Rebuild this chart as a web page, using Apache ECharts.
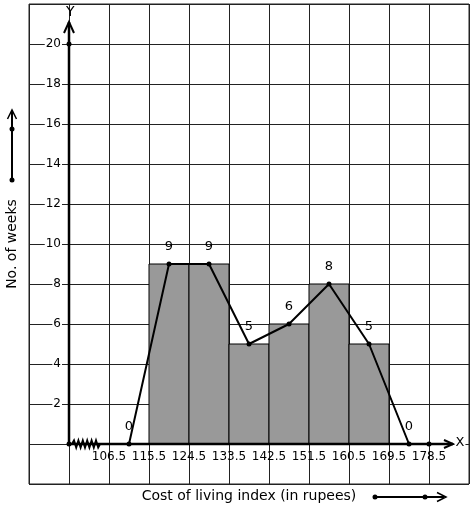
<!DOCTYPE html>
<html><head><meta charset="utf-8">
<script src="https://cdn.jsdelivr.net/npm/echarts@6/dist/echarts.min.js"></script>
<style>html,body{margin:0;padding:0;background:#fff}#c{width:474px;height:510px}</style>
</head><body><div id="c"></div>
<script>
// Histogram classes and frequencies
const classLower = [115.5, 124.5, 133.5, 142.5, 151.5, 160.5];
const classUpper = [124.5, 133.5, 142.5, 151.5, 160.5, 169.5];
const frequencies = [9, 9, 5, 6, 8, 5];
// Frequency polygon (class marks)
const polygonX = [111, 120, 129, 138, 147, 156, 165, 174];
const polygonY = [0, 9, 9, 5, 6, 8, 5, 0];
// Tick labels
const xTickLabels = ['106.5', '115.5', '124.5', '133.5', '142.5', '151.5', '160.5', '169.5', '178.5'];
const yTickLabels = ['2', '4', '6', '8', '10', '12', '14', '16', '18', '20'];
const xTitle = 'Cost of living index (in rupees)';
const yTitle = 'No. of weeks';

const FONT = 'DejaVu Sans';
const xMin = 88.5, xMax = 187.5, xStep = 9;
const originX = 97.5;

const chart = echarts.init(document.getElementById('c'), null, {renderer: 'canvas'});
const barData = classLower.map((l, i) => [l, classUpper[i], frequencies[i]]);
const polyData = polygonX.map((x, i) => [x, polygonY[i]]);

chart.setOption({
  animation: false,
  backgroundColor: '#fff',
  grid: {left: 29, top: 4, width: 440, height: 480, show: true, borderColor: '#222', borderWidth: 1, backgroundColor: 'transparent'},
  xAxis: {
    type: 'value', min: xMin, max: xMax, interval: xStep, position: 'bottom', offset: -40,
    axisLine: {show: false}, axisTick: {show: false},
    splitLine: {show: true, lineStyle: {color: '#222', width: 1}},
    axisLabel: {
      margin: 7, fontSize: 12, fontFamily: FONT, color: '#000',
      formatter: v => { const s = v.toFixed(1); return xTickLabels.includes(s) ? s : ''; }
    }
  },
  yAxis: {
    type: 'value', min: -2, max: 22, interval: 2, position: 'left', offset: -40,
    axisLine: {show: false}, axisTick: {show: false},
    splitLine: {show: true, lineStyle: {color: '#222', width: 1}},
    axisLabel: {
      margin: 7, fontSize: 12, fontFamily: FONT, color: '#000', backgroundColor: '#fff', padding: [0, 1, 0, 1],
      formatter: v => { const s = String(Math.round(v)); return yTickLabels.includes(s) ? s : ''; }
    }
  },
  series: [
    {
      type: 'custom', data: barData, z: 2,
      encode: {x: [0, 1], y: 2},
      renderItem: (params, api) => {
        const p0 = api.coord([api.value(0), api.value(2)]);
        const p1 = api.coord([api.value(1), 0]);
        return {type: 'rect', shape: {x: p0[0], y: p0[1], width: p1[0] - p0[0], height: p1[1] - p0[1]},
                style: {fill: '#999999', stroke: '#000', lineWidth: 1}};
      }
    },
    {
      type: 'line', data: polyData, z: 5,
      lineStyle: {color: '#000', width: 2},
      itemStyle: {color: '#000'},
      symbol: 'circle', symbolSize: 5, showSymbol: true,
      label: {show: true, position: 'top', distance: 8, fontSize: 13, fontFamily: FONT, color: '#000',
              formatter: p => String(p.value[1])}
    }
  ]
});

// Axis decorations computed from the coordinate system
const o = chart.convertToPixel({gridIndex: 0}, [originX, 0]);
const ox = o[0], oy = o[1];
const yTop = chart.convertToPixel({gridIndex: 0}, [originX, 20])[1];
const x178 = chart.convertToPixel({gridIndex: 0}, [178.5, 0])[0];
const yArrowTip = chart.convertToPixel({gridIndex: 0}, [originX, 21.1])[1];
const xArrowTip = chart.convertToPixel({gridIndex: 0}, [183.9, 0])[0];

const zig = [[ox + 3, oy]];
for (let i = 0; i < 12; i++) {
  zig.push([ox + 5 + i * 2.2, oy + (i % 2 === 0 ? -3.5 : 3.5)]);
}
zig.push([ox + 31, oy]);

const dot = (x, y) => ({type: 'circle', shape: {cx: x, cy: y, r: 2.5}, style: {fill: '#000'}, z: 20});
const line = (pts, w) => ({type: 'polyline', shape: {points: pts}, style: {stroke: '#000', lineWidth: w, fill: null}, z: 19});

chart.setOption({
  graphic: [
    line([[ox, oy], [ox, yArrowTip]], 2.5),
    line([[ox - 5, yArrowTip + 11], [ox, yArrowTip], [ox + 5, yArrowTip + 11]], 2),
    line([[ox, oy], [xArrowTip, oy]], 2.5),
    line([[xArrowTip - 9, oy - 4], [xArrowTip, oy], [xArrowTip - 9, oy + 4]], 2),
    line(zig, 2),
    dot(ox, oy), dot(ox, yTop), dot(x178, oy),
    {type: 'text', left: ox - 3, top: 5, z: 20, style: {text: 'Y', fontSize: 14, fontFamily: FONT, fill: '#000'}},
    {type: 'text', x: xArrowTip + 7, y: oy - 1, z: 20, style: {text: 'X', x: 0, y: 0, fontSize: 13, fontFamily: FONT, fill: '#000', align: 'center', verticalAlign: 'middle', backgroundColor: '#fff', padding: [0, 1]}},
    {type: 'text', x: 12, y: 244, rotation: Math.PI / 2, z: 20, style: {text: yTitle, x: 0, y: 0, fontSize: 14, fontFamily: FONT, fill: '#000', align: 'center', verticalAlign: 'middle'}},
    line([[12, 180], [12, 111]], 2),
    line([[7.5, 119], [12, 110], [16.5, 119]], 1.5),
    dot(12, 180), dot(12, 129),
    {type: 'text', x: 249, y: 496, z: 20, style: {text: xTitle, x: 0, y: 0, fontSize: 14, fontFamily: FONT, fill: '#000', align: 'center', verticalAlign: 'middle'}},
    line([[375, 497], [444, 497]], 2),
    line([[437, 492.5], [446, 497], [437, 501.5]], 1.5),
    dot(375, 497), dot(425, 497)
  ]
});
</script></body></html>
